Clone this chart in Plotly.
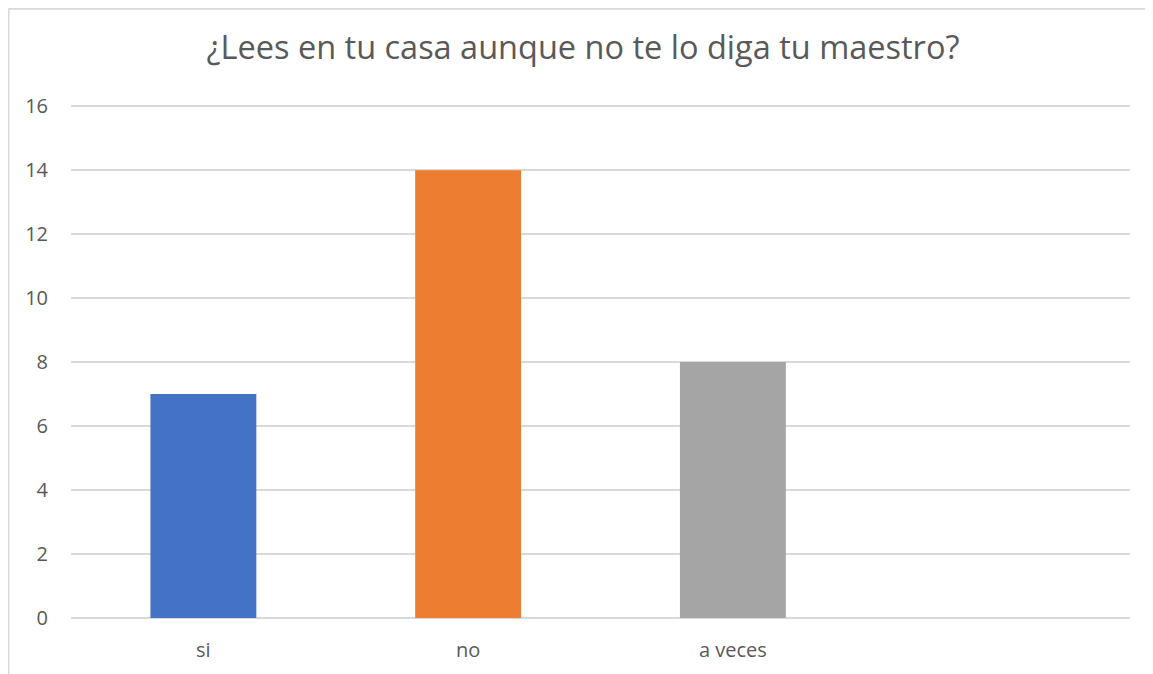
import plotly.graph_objects as go

categories = ["si", "no", "a veces"]
values = [7, 14, 8]
colors = ["#4472C4", "#ED7D31", "#A5A5A5"]
title_text = "¿Lees en tu casa aunque no te lo diga tu maestro?"

# page has an 8px body margin; figure sized to fit inside the window
OFF = 8
W, H = 1153 - OFF, 674 - OFF
YMAX = 16.1
PX_PER_UNIT = (618 - 106) / 16
top_px = 618 - YMAX * PX_PER_UNIT
L, R, T, B = 71 - OFF, 1153 - 1130, top_px - OFF, 674 - 618
pw, ph = W - L - R, H - T - B

def px_x(px):
    return (px - OFF - L) / pw

def px_y(py):
    return (H - B - (py - OFF)) / ph

fig = go.Figure(go.Bar(x=categories, y=values, marker=dict(color=colors, line=dict(width=0))))

FONT = "Open Sans, Lato, sans-serif"
fig.update_layout(
    width=W, height=H,
    margin=dict(l=L, r=R, t=T, b=B),
    paper_bgcolor="white", plot_bgcolor="white",
    bargap=0.6,
    showlegend=False,
    font=dict(family=FONT, color="#595959"),
    title=dict(text=title_text, x=px_x(583), xanchor="center", xref="paper",
               y=1 - (48 - OFF) / H, yanchor="middle",
               font=dict(size=32.5, color="#595959", family=FONT)),
    xaxis=dict(type="category", range=[-0.5, 3.5], showgrid=False, zeroline=False,
               showline=False, ticks="", tickfont=dict(size=20, color="#595959"),
               ticklabelstandoff=18),
    yaxis=dict(range=[0, YMAX], tickvals=[0, 2, 4, 6, 8, 10, 12, 14, 16],
               showgrid=True, gridcolor="#D9D9D9", gridwidth=1.5,
               zeroline=True, zerolinecolor="#D9D9D9", zerolinewidth=1.5, showline=False,
               ticks="", tickfont=dict(size=20, color="#595959"), ticklabelstandoff=22),
    shapes=[
        dict(type="line", xref="paper", yref="paper", x0=px_x(8.5), x1=px_x(1160),
             y0=px_y(8.5), y1=px_y(8.5), line=dict(color="#D9D9D9", width=2)),
        dict(type="line", xref="paper", yref="paper", x0=px_x(8.5), x1=px_x(8.5),
             y0=px_y(8.5), y1=px_y(680), line=dict(color="#D9D9D9", width=2)),
    ],
)

fig.write_html("out.html")
